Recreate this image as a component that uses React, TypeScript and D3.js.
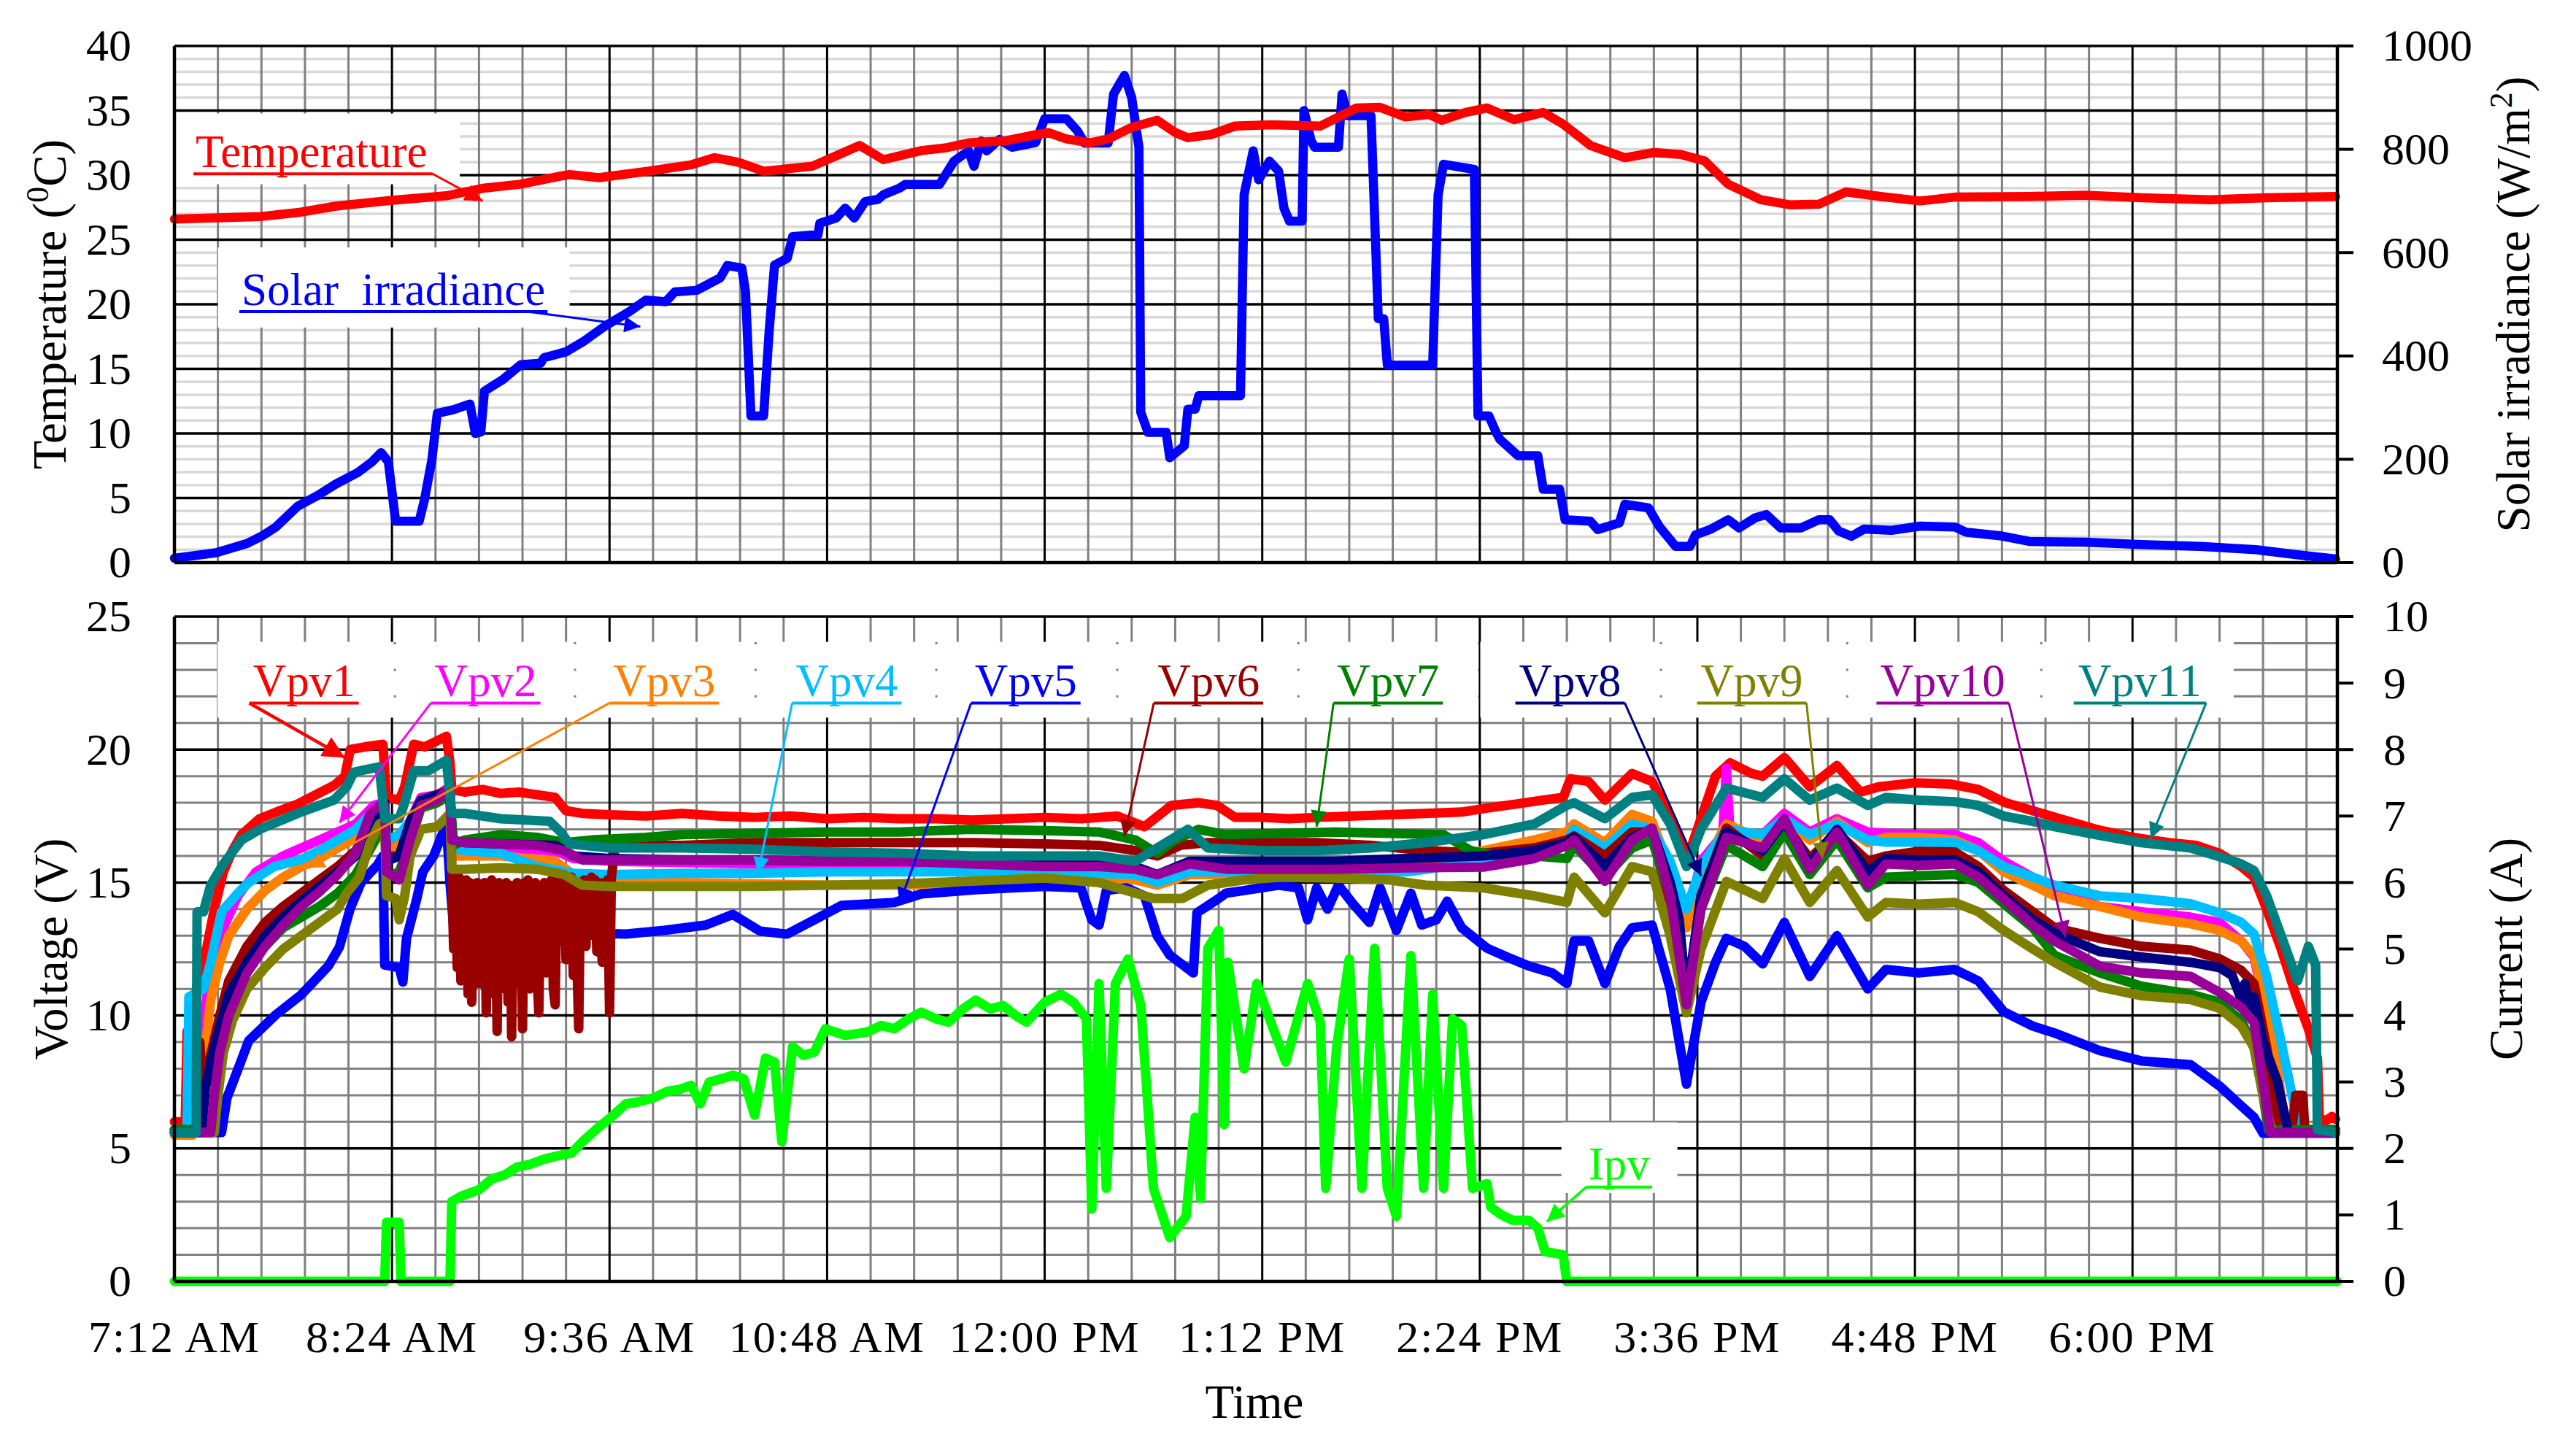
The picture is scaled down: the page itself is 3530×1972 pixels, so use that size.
import React from "react";
import * as d3 from "d3";

// ---- axes / ticks ----
const T0 = 7.2;
const T1 = 19.13;
const timeTicks = [7.2, 8.4, 9.6, 10.8, 12.0, 13.2, 14.4, 15.6, 16.8, 18.0];
const tempTicks = [0, 5, 10, 15, 20, 25, 30, 35, 40];
const irrTicks = [0, 200, 400, 600, 800, 1000];
const voltTicks = [0, 5, 10, 15, 20, 25];
const ampTicks = [0, 1, 2, 3, 4, 5, 6, 7, 8, 9, 10];

// ---- top panel data (hours, value) ----
const temperature: [number, number][] = [
  [7.2, 26.6], [7.68, 26.8], [7.88, 27.1], [8.09, 27.6], [8.4, 28.05], [8.7, 28.4], [8.91, 29.0], [9.11, 29.3],
  [9.32, 29.9], [9.38, 30.05], [9.54, 29.8], [9.81, 30.3], [10.05, 30.8], [10.18, 31.35], [10.31, 31.0], [10.45, 30.3],
  [10.72, 30.7], [10.85, 31.5], [10.98, 32.3], [11.11, 31.2], [11.32, 31.9], [11.45, 32.1], [11.58, 32.5], [11.78, 32.65],
  [11.92, 33.05], [12.02, 33.3], [12.12, 32.8], [12.25, 32.5], [12.35, 32.8], [12.48, 33.7], [12.62, 34.25], [12.72, 33.3],
  [12.79, 32.9], [12.92, 33.15], [13.05, 33.8], [13.25, 33.9], [13.52, 33.8], [13.62, 34.5], [13.72, 35.2], [13.85, 35.25],
  [13.99, 34.5], [14.12, 34.7], [14.19, 34.25], [14.32, 34.85], [14.44, 35.2], [14.59, 34.3], [14.75, 34.85], [14.86, 33.95],
  [15.01, 32.3], [15.2, 31.35], [15.36, 31.75], [15.51, 31.6], [15.64, 31.1], [15.77, 29.3], [15.95, 28.1], [16.11, 27.7],
  [16.27, 27.75], [16.42, 28.7], [16.61, 28.35], [16.83, 28.0], [17.02, 28.3], [17.43, 28.35], [17.74, 28.45], [18.05, 28.25],
  [18.43, 28.1], [18.74, 28.25], [19.12, 28.35],
];

const irradiance: [number, number][] = [
  [7.2, 8.5], [7.43, 19], [7.6, 37], [7.68, 51], [7.76, 69], [7.88, 109], [7.99, 130], [8.09, 152], [8.21, 174], [8.29, 195],
  [8.34, 213], [8.38, 195], [8.42, 80], [8.55, 80], [8.58, 123], [8.62, 199], [8.65, 289], [8.74, 296], [8.83, 307],
  [8.86, 250], [8.89, 253], [8.91, 332], [9.01, 354], [9.11, 383], [9.22, 386], [9.24, 397], [9.36, 408], [9.46, 429],
  [9.58, 459], [9.71, 486], [9.8, 508], [9.91, 505], [9.96, 524], [10.08, 527], [10.21, 551], [10.25, 575], [10.33, 570],
  [10.35, 524], [10.38, 284], [10.45, 284], [10.48, 446], [10.51, 576], [10.58, 589], [10.61, 631], [10.75, 635],
  [10.76, 657], [10.85, 667], [10.9, 686], [10.95, 667], [11.01, 699], [11.08, 703], [11.11, 712], [11.2, 725],
  [11.23, 732], [11.42, 732], [11.5, 777], [11.58, 797], [11.61, 767], [11.65, 816], [11.68, 797], [11.75, 819],
  [11.82, 804], [11.95, 813], [12.0, 859], [12.12, 859], [12.18, 836], [12.22, 812], [12.35, 812], [12.38, 907],
  [12.44, 943], [12.48, 900], [12.52, 804], [12.53, 291], [12.57, 252], [12.67, 252], [12.69, 203], [12.77, 226],
  [12.79, 297], [12.83, 297], [12.85, 323], [13.08, 323], [13.1, 712], [13.15, 797], [13.18, 741], [13.24, 777],
  [13.29, 758], [13.32, 686], [13.35, 661], [13.42, 661], [13.43, 875], [13.47, 816], [13.49, 804], [13.62, 804],
  [13.64, 907], [13.67, 865], [13.8, 865], [13.84, 472], [13.87, 472], [13.89, 382], [14.14, 382], [14.17, 712],
  [14.2, 771], [14.37, 761], [14.39, 284], [14.45, 284], [14.49, 252], [14.51, 239], [14.61, 207], [14.72, 207],
  [14.75, 142], [14.84, 142], [14.87, 83], [15.01, 80], [15.05, 64], [15.17, 77], [15.2, 113], [15.33, 106],
  [15.39, 70], [15.48, 31.5], [15.56, 31.5], [15.59, 54], [15.67, 64], [15.77, 83], [15.83, 67], [15.92, 87],
  [15.98, 93], [16.06, 67], [16.17, 67], [16.27, 83], [16.33, 83], [16.38, 61], [16.45, 51], [16.52, 65], [16.67, 62.5],
  [16.83, 70.6], [17.02, 69], [17.08, 59], [17.27, 52], [17.43, 41], [17.74, 39.5], [18.05, 35], [18.37, 31.5],
  [18.68, 25], [18.9, 15.5], [19.12, 7],
];

// ---- bottom panel data: module voltages (hours, V) ----
const vpv1: [number, number][] = [
  [7.2, 6.0], [7.26, 6.0], [7.27, 9.4], [7.29, 9.4], [7.31, 10.6], [7.34, 11.6], [7.38, 12.6], [7.42, 14.0], [7.47, 15.4],
  [7.52, 16.2], [7.57, 16.8], [7.67, 17.4], [7.78, 17.7], [7.88, 17.95], [7.98, 18.3], [8.08, 18.65], [8.14, 19.0],
  [8.17, 20.0], [8.25, 20.1], [8.35, 20.2], [8.37, 18.2], [8.44, 18.1], [8.47, 18.6], [8.52, 20.2], [8.58, 20.1],
  [8.64, 20.3], [8.7, 20.5], [8.72, 19.5], [8.73, 18.5], [8.8, 18.4], [8.9, 18.5], [9.0, 18.35], [9.1, 18.4], [9.2, 18.3],
  [9.3, 18.2], [9.36, 17.7], [9.45, 17.6], [9.6, 17.55], [9.8, 17.5], [10.0, 17.6], [10.2, 17.5], [10.4, 17.45],
  [10.6, 17.5], [10.8, 17.4], [11.0, 17.45], [11.2, 17.4], [11.4, 17.4], [11.6, 17.35], [11.8, 17.4], [12.0, 17.45],
  [12.2, 17.4], [12.4, 17.5], [12.55, 17.1], [12.7, 17.9], [12.85, 18.0], [12.95, 17.9], [13.05, 17.45], [13.2, 17.45],
  [13.35, 17.4], [13.5, 17.45], [13.7, 17.5], [13.9, 17.55], [14.1, 17.6], [14.3, 17.65], [14.44, 17.8], [14.6, 17.95],
  [14.75, 18.1], [14.86, 18.2], [14.9, 18.9], [15.0, 18.8], [15.09, 18.1], [15.24, 19.1], [15.35, 18.8], [15.45, 17.5],
  [15.55, 16.0], [15.62, 17.4], [15.7, 19.0], [15.78, 19.5], [15.9, 19.1], [15.96, 19.0], [16.08, 19.7], [16.22, 18.6],
  [16.37, 19.4], [16.5, 18.4], [16.6, 18.6], [16.8, 18.75], [17.0, 18.7], [17.15, 18.5], [17.3, 18.0], [17.45, 17.7],
  [17.6, 17.4], [17.8, 17.0], [18.0, 16.7], [18.2, 16.5], [18.35, 16.4], [18.48, 16.1], [18.6, 15.6], [18.67, 15.2],
  [18.74, 14.0], [18.82, 12.5], [18.9, 10.8], [18.97, 9.5], [19.02, 8.4], [19.03, 6.2], [19.06, 6.0], [19.1, 6.2], [19.12, 6.1],
];

const vpv2: [number, number][] = [
  [7.2, 5.7], [7.33, 5.7], [7.35, 8.5], [7.38, 10.8], [7.42, 12.0], [7.47, 13.3], [7.55, 14.5], [7.65, 15.4], [7.8, 16.0],
  [7.9, 16.3], [8.0, 16.6], [8.1, 16.9], [8.2, 17.2], [8.3, 17.9], [8.35, 18.0], [8.37, 16.3], [8.44, 16.5], [8.5, 17.3],
  [8.56, 18.2], [8.65, 18.3], [8.72, 18.6], [8.73, 16.5], [8.8, 16.4], [9.0, 16.3], [9.3, 16.2], [9.4, 15.9], [9.6, 15.8],
  [10.0, 15.75], [10.4, 15.7], [10.8, 15.65], [11.2, 15.6], [11.6, 15.6], [12.0, 15.6], [12.3, 15.6], [12.5, 15.5],
  [12.62, 15.2], [12.8, 15.6], [13.0, 15.6], [13.4, 15.6], [13.8, 15.6], [14.1, 15.6], [14.42, 15.9], [14.7, 16.3],
  [14.88, 16.9], [14.92, 17.2], [15.09, 16.4], [15.24, 17.4], [15.35, 17.2], [15.45, 15.5], [15.54, 13.5], [15.62, 15.8],
  [15.74, 16.8], [15.76, 19.3], [15.78, 16.9], [15.96, 16.8], [16.08, 17.6], [16.22, 16.9], [16.37, 17.4], [16.54, 16.9],
  [16.64, 16.85], [16.82, 16.8], [17.02, 16.8], [17.15, 16.5], [17.29, 15.8], [17.45, 15.2], [17.57, 14.8], [17.82, 14.1],
  [18.05, 13.9], [18.32, 13.7], [18.48, 13.5], [18.6, 12.8], [18.67, 12.2], [18.74, 10.0], [18.8, 8.0], [18.84, 5.7], [19.12, 5.7],
];

const vpv3: [number, number][] = [
  [7.2, 5.5], [7.3, 5.5], [7.35, 7.5], [7.4, 10.57], [7.45, 12.0], [7.5, 13.0], [7.6, 14.0], [7.7, 14.7], [7.8, 15.2],
  [7.9, 15.6], [8.0, 15.9], [8.1, 16.3], [8.2, 16.8], [8.3, 17.5], [8.35, 17.7], [8.37, 16.2], [8.44, 16.4], [8.5, 17.3],
  [8.56, 18.0], [8.65, 18.2], [8.72, 18.4], [8.73, 16.0], [8.8, 16.0], [9.0, 16.0], [9.3, 15.8], [9.4, 15.3], [9.6, 15.1],
  [10.0, 15.0], [10.4, 14.95], [10.8, 14.9], [11.2, 14.9], [11.6, 14.95], [11.9, 15.0], [12.0, 15.05], [12.3, 15.1],
  [12.5, 15.1], [12.62, 14.9], [12.8, 15.3], [13.0, 15.3], [13.3, 15.35], [13.6, 15.4], [14.0, 15.6], [14.42, 16.2],
  [14.7, 16.6], [14.88, 16.9], [14.92, 17.2], [15.09, 16.5], [15.24, 17.56], [15.35, 17.3], [15.45, 15.5], [15.54, 13.3],
  [15.62, 15.4], [15.76, 17.2], [15.96, 16.6], [16.08, 17.4], [16.22, 16.6], [16.37, 17.3], [16.54, 16.5], [16.64, 16.7],
  [16.82, 16.7], [17.02, 16.6], [17.15, 16.2], [17.29, 15.4], [17.45, 14.9], [17.57, 14.5], [17.82, 14.1], [18.05, 13.7],
  [18.32, 13.45], [18.48, 13.2], [18.6, 12.8], [18.67, 12.26], [18.74, 10.27], [18.8, 8.0], [18.84, 5.7], [19.12, 5.6],
];

const vpv4: [number, number][] = [
  [7.2, 5.7], [7.27, 5.7], [7.28, 10.7], [7.36, 11.0], [7.4, 12.0], [7.46, 13.9], [7.55, 14.6], [7.61, 15.0], [7.75, 15.6],
  [7.9, 15.87], [8.0, 16.2], [8.1, 16.6], [8.2, 17.0], [8.3, 17.7], [8.35, 17.9], [8.37, 16.6], [8.44, 16.8], [8.5, 17.3],
  [8.56, 18.0], [8.65, 18.2], [8.72, 18.4], [8.73, 16.3], [8.8, 16.2], [9.0, 16.1], [9.2, 15.6], [9.4, 15.35], [9.6, 15.3],
  [10.0, 15.35], [10.4, 15.35], [10.8, 15.4], [11.2, 15.4], [11.6, 15.4], [12.0, 15.4], [12.5, 15.3], [12.62, 15.0],
  [12.8, 15.4], [13.2, 15.4], [13.6, 15.4], [14.0, 15.4], [14.42, 15.8], [14.7, 16.2], [14.88, 16.6], [14.92, 17.0],
  [15.09, 16.3], [15.24, 17.2], [15.35, 17.0], [15.45, 15.8], [15.54, 14.0], [15.62, 15.6], [15.76, 17.0], [15.96, 16.8],
  [16.08, 17.4], [16.22, 16.8], [16.37, 17.2], [16.54, 16.6], [16.64, 16.52], [16.82, 16.52], [17.02, 16.5], [17.15, 16.2],
  [17.29, 15.6], [17.45, 15.2], [17.57, 14.9], [17.82, 14.5], [18.05, 14.4], [18.32, 14.2], [18.48, 13.86], [18.6, 13.5],
  [18.67, 13.06], [18.74, 11.47], [18.82, 9.0], [18.88, 7.0], [18.92, 5.7], [19.12, 5.7],
];

const vpv5: [number, number][] = [
  [7.2, 5.6], [7.46, 5.6], [7.49, 6.9], [7.55, 7.97], [7.61, 9.05], [7.76, 10.03], [7.9, 10.78], [8.05, 11.87], [8.11, 12.57],
  [8.17, 14.03], [8.23, 15.0], [8.32, 15.66], [8.35, 16.0], [8.36, 11.9], [8.44, 11.8], [8.46, 11.26], [8.48, 12.9],
  [8.535, 14.34], [8.57, 15.4], [8.63, 16.0], [8.7, 17.2], [8.72, 15.0], [8.74, 13.3], [8.9, 13.4], [9.1, 13.4], [9.3, 13.3],
  [9.5, 13.1], [9.69, 13.06], [9.9, 13.2], [10.13, 13.4], [10.28, 13.8], [10.43, 13.17], [10.58, 13.06], [10.73, 13.6],
  [10.88, 14.14], [11.17, 14.25], [11.32, 14.57], [11.62, 14.73], [11.82, 14.8], [12.0, 14.85], [12.2, 14.8], [12.26, 13.6],
  [12.3, 13.4], [12.34, 14.7], [12.45, 14.8], [12.55, 14.5], [12.62, 13.0], [12.69, 12.27], [12.77, 11.86], [12.82, 11.6],
  [12.84, 13.86], [12.96, 14.4], [13.0, 14.6], [13.1, 14.7], [13.29, 14.9], [13.4, 14.8], [13.45, 13.6], [13.5, 14.8],
  [13.56, 14.0], [13.62, 14.9], [13.7, 14.2], [13.79, 13.5], [13.85, 14.8], [13.94, 13.2], [14.02, 14.6], [14.08, 13.4],
  [14.16, 13.6], [14.22, 14.3], [14.3, 13.3], [14.44, 12.53], [14.55, 12.2], [14.67, 11.86], [14.8, 11.6], [14.88, 11.2],
  [14.92, 12.8], [15.0, 12.8], [15.09, 11.2], [15.17, 12.6], [15.24, 13.3], [15.35, 13.4], [15.45, 11.0], [15.54, 7.42],
  [15.62, 10.5], [15.7, 12.0], [15.76, 12.9], [15.86, 12.6], [15.96, 11.94], [16.08, 13.5], [16.22, 11.47], [16.37, 13.0],
  [16.54, 11.0], [16.64, 11.73], [16.82, 11.6], [17.02, 11.73], [17.15, 11.3], [17.29, 10.14], [17.45, 9.6], [17.57, 9.34],
  [17.82, 8.68], [18.05, 8.29], [18.32, 8.15], [18.48, 7.35], [18.6, 6.6], [18.67, 6.17], [18.72, 5.57], [19.12, 5.57],
];

const vpv6: [number, number][] = [
  [7.2, 5.7], [7.33, 5.7], [7.34, 9.0], [7.36, 7.0], [7.4, 8.5], [7.45, 10.0], [7.5, 11.3], [7.6, 12.6], [7.7, 13.5],
  [7.8, 14.1], [7.9, 14.6], [8.0, 15.1], [8.1, 15.6], [8.2, 16.2], [8.3, 17.3], [8.36, 17.6], [8.37, 16.0], [8.44, 16.0],
  [8.5, 17.0], [8.56, 18.0], [8.65, 18.3], [8.72, 18.5],
  [8.73, 15.5], [8.74, 12.5], [8.75, 15.3], [8.76, 11.8], [8.77, 15.2], [8.78, 11.3], [8.79, 15.0], [8.8, 12.2],
  [8.81, 15.1], [8.82, 10.8], [8.83, 15.0], [8.84, 10.5], [8.85, 14.9], [8.86, 12.0], [8.87, 15.0], [8.88, 11.2],
  [8.89, 14.8], [8.9, 12.5], [8.91, 15.0], [8.92, 10.1], [8.93, 14.9], [8.94, 11.5], [8.95, 15.1], [8.96, 10.8],
  [8.97, 14.8], [8.98, 9.4], [8.99, 15.0], [9.0, 11.0], [9.01, 14.7], [9.02, 11.8], [9.03, 15.0], [9.04, 10.5],
  [9.05, 14.9], [9.06, 9.2], [9.07, 14.8], [9.08, 12.0], [9.09, 15.0], [9.1, 11.2], [9.11, 14.9], [9.12, 9.5],
  [9.13, 15.0], [9.14, 12.3], [9.15, 15.1], [9.16, 11.0], [9.17, 14.8], [9.18, 12.6], [9.19, 15.0], [9.2, 11.5],
  [9.21, 10.1], [9.22, 14.9], [9.23, 12.2], [9.24, 15.0], [9.25, 11.6], [9.26, 14.8], [9.27, 12.5], [9.28, 15.1],
  [9.29, 11.0], [9.3, 10.4], [9.31, 15.0], [9.32, 13.0], [9.33, 15.2], [9.34, 12.8], [9.35, 15.1], [9.36, 12.1],
  [9.37, 15.0], [9.38, 13.2], [9.39, 15.2], [9.4, 11.5], [9.41, 14.9], [9.42, 12.0], [9.43, 9.5], [9.44, 15.0],
  [9.45, 13.4], [9.46, 15.1], [9.47, 12.6], [9.48, 15.0], [9.49, 13.0], [9.5, 15.2], [9.51, 13.5], [9.52, 15.1],
  [9.53, 12.4], [9.54, 15.0], [9.55, 13.2], [9.56, 12.0], [9.57, 15.0], [9.58, 13.3], [9.59, 15.1], [9.6, 10.1],
  [9.61, 15.2], [9.63, 16.3],
  [9.8, 16.4], [10.0, 16.4], [10.4, 16.5], [10.8, 16.5], [11.2, 16.5], [11.6, 16.5], [12.0, 16.45], [12.3, 16.4],
  [12.5, 16.2], [12.62, 16.0], [12.75, 16.4], [12.9, 16.5], [13.2, 16.5], [13.5, 16.5], [13.8, 16.4], [14.1, 16.2],
  [14.42, 16.1], [14.7, 16.3], [14.88, 16.6], [14.92, 16.75], [15.09, 16.0], [15.24, 16.9], [15.35, 16.9], [15.45, 14.0],
  [15.54, 10.4], [15.62, 14.5], [15.76, 17.05], [15.96, 16.0], [16.08, 17.2], [16.22, 15.9], [16.37, 16.9], [16.54, 15.8],
  [16.64, 16.0], [16.82, 16.17], [17.02, 16.15], [17.15, 15.6], [17.29, 14.7], [17.45, 13.9], [17.57, 13.3], [17.82, 12.9],
  [18.05, 12.6], [18.32, 12.46], [18.48, 12.13], [18.6, 11.7], [18.67, 11.2], [18.74, 8.8], [18.78, 7.0], [18.8, 5.7],
  [18.88, 5.7], [18.9, 7.0], [18.94, 7.0], [18.95, 5.7], [19.12, 5.7],
];

const vpv7: [number, number][] = [
  [7.2, 5.7], [7.41, 5.7], [7.43, 7.5], [7.47, 9.5], [7.52, 10.8], [7.6, 11.8], [7.7, 12.6], [7.8, 13.3], [7.9, 13.7],
  [8.0, 14.1], [8.1, 14.6], [8.2, 15.3], [8.3, 16.5], [8.36, 17.2], [8.37, 15.2], [8.44, 15.4], [8.5, 16.5], [8.56, 17.8],
  [8.65, 18.0], [8.72, 18.3], [8.74, 16.4], [8.8, 16.6], [9.0, 16.8], [9.2, 16.7], [9.35, 16.5], [9.5, 16.6], [9.8, 16.7],
  [10.0, 16.8], [10.4, 16.85], [10.8, 16.9], [11.2, 16.9], [11.6, 17.0], [12.0, 16.95], [12.3, 16.9], [12.5, 16.6],
  [12.62, 16.1], [12.72, 16.6], [12.85, 17.0], [13.0, 16.8], [13.3, 16.85], [13.6, 16.9], [13.9, 16.85], [14.2, 16.8],
  [14.35, 16.2], [14.5, 16.0], [14.7, 16.0], [14.88, 15.9], [14.92, 16.4], [15.09, 15.2], [15.24, 16.3], [15.35, 16.6],
  [15.45, 14.5], [15.54, 10.6], [15.62, 14.0], [15.76, 16.4], [15.96, 15.6], [16.08, 16.9], [16.22, 15.3], [16.37, 16.6],
  [16.54, 14.8], [16.64, 15.2], [16.82, 15.25], [17.02, 15.3], [17.15, 15.0], [17.29, 14.2], [17.45, 13.3], [17.57, 12.26],
  [17.82, 11.6], [18.05, 11.1], [18.32, 10.8], [18.48, 10.5], [18.6, 9.8], [18.67, 8.8], [18.72, 7.0], [18.75, 5.7], [19.12, 5.7],
];

const vpv8: [number, number][] = [
  [7.2, 5.6], [7.35, 5.6], [7.37, 7.2], [7.4, 8.3], [7.45, 9.6], [7.5, 10.8], [7.6, 12.0], [7.7, 13.0], [7.8, 13.7],
  [7.9, 14.3], [8.0, 14.85], [8.1, 15.4], [8.2, 16.0], [8.3, 17.3], [8.36, 18.0], [8.37, 15.8], [8.44, 16.0], [8.5, 17.3],
  [8.56, 18.1], [8.65, 18.3], [8.72, 18.4], [8.73, 16.6], [8.8, 16.5], [9.0, 16.45], [9.3, 16.4], [9.4, 16.0], [9.6, 15.9],
  [10.0, 15.85], [10.4, 15.85], [10.8, 15.8], [11.2, 15.8], [11.6, 15.75], [12.0, 15.7], [12.3, 15.7], [12.5, 15.6],
  [12.62, 15.3], [12.8, 15.8], [13.2, 15.8], [13.6, 15.8], [14.0, 15.9], [14.42, 16.0], [14.7, 16.2], [14.88, 16.5],
  [14.92, 16.7], [15.09, 15.6], [15.24, 16.7], [15.35, 17.0], [15.45, 15.0], [15.5, 13.6], [15.54, 10.6], [15.62, 14.5],
  [15.76, 16.9], [15.96, 16.2], [16.08, 17.3], [16.22, 15.7], [16.37, 17.0], [16.54, 15.4], [16.64, 15.9], [16.82, 15.84],
  [17.02, 15.85], [17.15, 15.4], [17.29, 14.5], [17.45, 13.6], [17.57, 13.1], [17.82, 12.4], [18.05, 12.2], [18.32, 12.0],
  [18.48, 11.8], [18.55, 11.5], [18.6, 10.6], [18.62, 11.2], [18.65, 10.0], [18.67, 10.7], [18.72, 9.0], [18.8, 7.5],
  [18.86, 5.6], [19.12, 5.6],
];

const vpv9: [number, number][] = [
  [7.2, 5.6], [7.42, 5.6], [7.44, 7.0], [7.47, 8.6], [7.52, 9.8], [7.6, 11.0], [7.7, 11.8], [7.8, 12.5], [7.9, 13.0],
  [8.0, 13.5], [8.1, 14.0], [8.15, 14.6], [8.22, 15.2], [8.28, 16.5], [8.33, 17.2], [8.36, 17.3], [8.37, 14.5], [8.42, 14.4],
  [8.44, 13.6], [8.47, 14.5], [8.5, 16.0], [8.56, 17.0], [8.65, 17.1], [8.72, 17.6], [8.73, 15.5], [8.8, 15.5], [9.0, 15.55],
  [9.2, 15.5], [9.35, 15.3], [9.45, 14.9], [9.6, 14.85], [10.0, 14.85], [10.4, 14.85], [10.8, 14.9], [11.2, 14.95],
  [11.6, 15.05], [12.0, 15.17], [12.3, 15.0], [12.45, 14.7], [12.6, 14.4], [12.76, 14.4], [12.9, 14.9], [13.1, 15.1],
  [13.3, 15.2], [13.6, 15.17], [13.9, 15.1], [14.1, 14.9], [14.42, 14.8], [14.7, 14.5], [14.88, 14.25], [14.92, 15.2],
  [15.09, 13.86], [15.24, 15.6], [15.35, 15.4], [15.45, 13.0], [15.54, 10.1], [15.62, 12.5], [15.76, 15.04], [15.96, 14.4],
  [16.08, 15.9], [16.22, 14.25], [16.37, 15.45], [16.54, 13.7], [16.64, 14.25], [16.82, 14.19], [17.02, 14.25], [17.15, 13.9],
  [17.29, 13.2], [17.45, 12.5], [17.57, 12.0], [17.82, 11.07], [18.05, 10.74], [18.32, 10.6], [18.48, 10.27], [18.6, 9.6],
  [18.67, 8.8], [18.72, 7.0], [18.77, 5.6], [19.12, 5.6],
];

const vpv10: [number, number][] = [
  [7.2, 5.6], [7.4, 5.6], [7.42, 7.0], [7.45, 8.6], [7.5, 10.0], [7.6, 11.6], [7.7, 12.6], [7.8, 13.4], [7.9, 14.1],
  [8.0, 14.65], [8.1, 15.3], [8.2, 16.1], [8.28, 17.6], [8.33, 17.9], [8.36, 17.9], [8.37, 15.4], [8.44, 15.1], [8.5, 16.6],
  [8.56, 17.9], [8.65, 18.1], [8.72, 18.6], [8.73, 16.6], [8.8, 16.5], [9.0, 16.45], [9.2, 16.4], [9.35, 16.2], [9.45, 15.85],
  [9.6, 15.85], [10.0, 15.85], [10.4, 15.85], [10.8, 15.8], [11.2, 15.8], [11.6, 15.7], [12.0, 15.6], [12.3, 15.6],
  [12.5, 15.5], [12.62, 15.3], [12.8, 15.7], [13.0, 15.5], [13.3, 15.5], [13.6, 15.5], [14.0, 15.55], [14.42, 15.58],
  [14.7, 15.9], [14.88, 16.4], [14.92, 16.6], [15.09, 15.05], [15.24, 16.6], [15.35, 17.05], [15.45, 14.5], [15.54, 10.4],
  [15.62, 14.0], [15.76, 16.7], [15.96, 16.3], [16.08, 17.4], [16.22, 15.5], [16.37, 16.9], [16.54, 14.9], [16.64, 15.7],
  [16.82, 15.64], [17.02, 15.7], [17.15, 15.2], [17.29, 14.38], [17.45, 13.4], [17.57, 12.8], [17.82, 11.86], [18.05, 11.6],
  [18.32, 11.47], [18.48, 10.87], [18.6, 10.3], [18.67, 9.74], [18.72, 7.5], [18.76, 5.6], [19.12, 5.6],
];

const vpv11: [number, number][] = [
  [7.2, 5.6], [7.32, 5.6], [7.325, 13.9], [7.36, 13.9], [7.4, 14.9], [7.47, 15.7], [7.57, 16.6], [7.67, 17.0], [7.88, 17.6],
  [8.08, 18.1], [8.15, 18.6], [8.19, 19.15], [8.33, 19.35], [8.36, 17.4], [8.44, 17.4], [8.47, 18.0], [8.52, 19.2],
  [8.6, 19.2], [8.7, 19.6], [8.73, 17.6], [8.8, 17.6], [9.0, 17.4], [9.27, 17.3], [9.33, 16.9], [9.38, 16.45], [9.6, 16.3],
  [10.0, 16.3], [10.4, 16.25], [10.8, 16.15], [11.2, 16.1], [11.6, 16.0], [12.0, 16.0], [12.3, 16.0], [12.5, 15.8],
  [12.62, 16.3], [12.79, 17.0], [12.9, 16.3], [13.2, 16.2], [13.5, 16.2], [13.8, 16.3], [14.1, 16.5], [14.42, 16.8],
  [14.7, 17.2], [14.88, 17.9], [14.92, 18.0], [15.09, 17.4], [15.24, 18.2], [15.35, 18.3], [15.45, 17.2], [15.54, 15.6],
  [15.62, 17.0], [15.76, 18.55], [15.96, 18.2], [16.08, 18.9], [16.22, 18.1], [16.37, 18.55], [16.54, 17.9], [16.64, 18.2],
  [16.82, 18.1], [17.02, 18.04], [17.15, 17.9], [17.29, 17.5], [17.45, 17.3], [17.57, 17.1], [17.82, 16.77], [18.05, 16.5],
  [18.32, 16.3], [18.48, 15.97], [18.6, 15.7], [18.67, 15.45], [18.74, 14.5], [18.82, 13.0], [18.91, 11.3], [18.97, 12.6],
  [19.01, 11.9], [19.02, 5.7], [19.12, 5.6],
];

// ---- bottom panel data: array current (hours, A) ----
const ipv: [number, number][] = [
  [7.2, 0], [8.36, 0], [8.37, 0.89], [8.44, 0.89], [8.45, 0], [8.72, 0], [8.73, 1.2], [8.78, 1.28], [8.83, 1.33],
  [8.88, 1.38], [8.95, 1.54], [9.02, 1.6], [9.09, 1.72], [9.16, 1.76], [9.24, 1.84], [9.3, 1.88], [9.39, 1.93],
  [9.45, 2.1], [9.54, 2.32], [9.6, 2.45], [9.69, 2.67], [9.76, 2.7], [9.84, 2.76], [9.92, 2.86], [9.99, 2.89],
  [10.05, 2.95], [10.1, 2.67], [10.15, 3.0], [10.22, 3.05], [10.28, 3.1], [10.34, 3.05], [10.4, 2.5], [10.46, 3.36],
  [10.51, 3.3], [10.55, 2.1], [10.61, 3.53], [10.67, 3.4], [10.73, 3.45], [10.79, 3.8], [10.9, 3.7], [11.02, 3.75],
  [11.1, 3.85], [11.17, 3.8], [11.25, 3.95], [11.32, 4.05], [11.4, 3.95], [11.47, 3.9], [11.55, 4.1], [11.62, 4.23],
  [11.7, 4.1], [11.77, 4.15], [11.84, 4.0], [11.9, 3.9], [12.0, 4.2], [12.09, 4.32], [12.16, 4.2], [12.23, 3.95],
  [12.26, 1.09], [12.3, 4.48], [12.34, 1.4], [12.39, 4.48], [12.46, 4.85], [12.53, 4.16], [12.56, 3.0], [12.6, 1.4],
  [12.69, 0.66], [12.78, 0.98], [12.83, 2.47], [12.86, 1.25], [12.9, 5.01], [12.96, 5.28], [12.99, 2.36], [13.01, 4.8],
  [13.1, 3.2], [13.17, 4.48], [13.24, 3.95], [13.33, 3.3], [13.45, 4.48], [13.52, 3.9], [13.55, 1.4], [13.61, 3.52],
  [13.68, 4.85], [13.75, 1.4], [13.82, 5.01], [13.89, 1.4], [13.94, 0.98], [14.02, 4.9], [14.09, 1.4], [14.14, 4.32],
  [14.2, 1.4], [14.25, 3.95], [14.3, 3.85], [14.36, 1.4], [14.44, 1.47], [14.46, 1.12], [14.52, 1.0], [14.58, 0.92],
  [14.67, 0.92], [14.72, 0.8], [14.76, 0.45], [14.86, 0.4], [14.88, 0], [19.13, 0],
];

// ---- series styling and label annotations (label centre in hours, arrow tip in data units) ----
const voltSeries = [
  { name: "Vpv1", color: "#ff0000", data: vpv1, labelAt: 7.915, tip: [8.14, 19.7], from: "left" },
  { name: "Vpv2", color: "#ff00ff", data: vpv2, labelAt: 8.917, tip: [8.11, 17.25], from: "left" },
  { name: "Vpv3", color: "#ff8000", data: vpv3, labelAt: 9.902, tip: [7.94, 15.55], from: "left" },
  { name: "Vpv4", color: "#00bfff", data: vpv4, labelAt: 10.909, tip: [10.42, 15.35], from: "left" },
  { name: "Vpv5", color: "#0000ff", data: vpv5, labelAt: 11.896, tip: [11.2, 14.2], from: "left" },
  { name: "Vpv6", color: "#990000", data: vpv6, labelAt: 12.904, tip: [12.44, 16.75], from: "left" },
  { name: "Vpv7", color: "#008000", data: vpv7, labelAt: 13.895, tip: [13.5, 17.1], from: "left" },
  { name: "Vpv8", color: "#000080", data: vpv8, labelAt: 14.898, tip: [15.62, 15.25], from: "right" },
  { name: "Vpv9", color: "#808000", data: vpv9, labelAt: 15.9, tip: [16.29, 15.9], from: "right" },
  { name: "Vpv10", color: "#990099", data: vpv10, labelAt: 16.953, tip: [17.63, 12.95], from: "right" },
  { name: "Vpv11", color: "#008080", data: vpv11, labelAt: 18.041, tip: [18.1, 16.65], from: "right" },
];

const glyphW: Record<string, number> = {
  V: 0.722, p: 0.5, v: 0.5, I: 0.333, T: 0.611, e: 0.444, m: 0.778, r: 0.333, a: 0.444, t: 0.278, u: 0.5,
  S: 0.556, o: 0.5, l: 0.278, i: 0.278, d: 0.5, n: 0.5, c: 0.444, " ": 0.25, "\u00a0": 0.25,
};
const textW = (s: string, fs: number) =>
  s.split("").reduce((acc, ch) => acc + (glyphW[ch] ?? 0.5), 0) * fs;

const fmtTime = (h: number) => {
  const hh = Math.floor(h + 1e-6);
  const mm = Math.round((h - hh) * 60);
  const ap = hh >= 12 ? "PM" : "AM";
  const h12 = hh > 12 ? hh - 12 : hh;
  return `${h12}:${String(mm).padStart(2, "0")} ${ap}`;
};

const FONT = "'Liberation Serif', 'Times New Roman', serif";

export default function App() {
  const W = 3530, H = 1972;
  const x = d3.scaleLinear().domain([T0, T1]).range([239, 3203]);
  const yT = d3.scaleLinear().domain([0, 40]).range([771, 63]);
  const yIrr = d3.scaleLinear().domain([0, 1000]).range([771, 63]);
  const yV = d3.scaleLinear().domain([0, 25]).range([1756, 845]);
  const yI = d3.scaleLinear().domain([0, 10]).range([1756, 845]);

  const xL = x(T0), xR = x(T1);
  const minorX = d3.range(0, 60).map((i) => T0 + i * 0.24).filter((t) => t < T1 - 0.02);
  const majorX = minorX.filter((_, i) => i % 5 === 0);

  const lineT = d3.line<[number, number]>().x((d) => x(d[0])).y((d) => yT(d[1]));
  const lineIrr = d3.line<[number, number]>().x((d) => x(d[0])).y((d) => yIrr(d[1]));
  const lineV = d3.line<[number, number]>().x((d) => x(d[0])).y((d) => yV(d[1]));
  const lineI = d3.line<[number, number]>().x((d) => x(d[0])).y((d) => yI(d[1]));

  const LW = 13;
  const LWtop = 12.5;
  const labFS = 63;

  // bottom label boxes
  const centers = voltSeries.map((s) => x(s.labelAt));
  const edges = [centers[0] - 120];
  for (let i = 0; i < centers.length - 1; i++) edges.push((centers[i] + centers[i + 1]) / 2);
  edges.push(centers[centers.length - 1] + 130);

  const marker = (id: string, color: string, len: number, wid: number) => (
    <marker key={id} id={id} viewBox="0 0 10 10" refX={10} refY={5} markerWidth={len} markerHeight={wid}
      markerUnits="userSpaceOnUse" orient="auto">
      <path d="M0,0 L10,5 L0,10 z" fill={color} />
    </marker>
  );

  // top labels
  const tempTxt = "Temperature";
  const tempX0 = x(7.317), tempBase = yT(30.6), tempUl = yT(30.1);
  const tempW = textW(tempTxt, labFS);
  const solTxt = "Solar\u00a0 irradiance";
  const solX0 = x(7.57), solBase = yIrr(498.6), solUl = yIrr(486);
  const solW = textW(solTxt, labFS);
  const ipvX0 = x(15.0), ipvBase = yI(1.54), ipvUl = yI(1.42);

  return (
    <div>
      <style>{`body{margin:0;overflow:hidden;background:#fff}`}</style>
      <svg width={W} height={H} style={{ display: "block", fontFamily: FONT }}>
        <defs>
          {voltSeries.map((s, i) => marker(`arr${i}`, s.color, i === 0 ? 38 : 30, i === 0 ? 30 : 22))}
          {marker("arrT", "#ff0000", 30, 24)}
          {marker("arrS", "#0000ff", 28, 22)}
          {marker("arrI", "#00ff00", 32, 24)}
        </defs>
        <rect x={0} y={0} width={W} height={H} fill="#fff" />

        {/* ===== top panel grid ===== */}
        <g>
          {d3.range(0, 41).filter((v) => v % 5 !== 0).map((v) => (
            <line key={`tm${v}`} x1={xL} x2={xR} y1={yT(v)} y2={yT(v)} stroke="#d9d9d9" strokeWidth={3.5} />
          ))}
          {minorX.filter((_, i) => i % 5 !== 0).map((t) => (
            <line key={`tv${t}`} x1={x(t)} x2={x(t)} y1={yT(0)} y2={yT(40)} stroke="#808080" strokeWidth={3} />
          ))}
          {majorX.map((t) => (
            <line key={`tV${t}`} x1={x(t)} x2={x(t)} y1={yT(0)} y2={yT(40)} stroke="#000" strokeWidth={3} />
          ))}
          {tempTicks.map((v) => (
            <line key={`tH${v}`} x1={xL} x2={xR} y1={yT(v)} y2={yT(v)} stroke="#000" strokeWidth={3.5} />
          ))}
        </g>

        {/* ===== bottom panel grid ===== */}
        <g>
          {d3.range(0, 26).filter((v) => v % 5 !== 0).map((v) => (
            <line key={`bm${v}`} x1={xL} x2={xR} y1={yV(v)} y2={yV(v)} stroke="#808080" strokeWidth={3} />
          ))}
          {minorX.filter((_, i) => i % 5 !== 0).map((t) => (
            <line key={`bv${t}`} x1={x(t)} x2={x(t)} y1={yV(0)} y2={yV(25)} stroke="#808080" strokeWidth={3} />
          ))}
          {majorX.map((t) => (
            <line key={`bV${t}`} x1={x(t)} x2={x(t)} y1={yV(0)} y2={yV(25)} stroke="#000" strokeWidth={3} />
          ))}
          {voltTicks.map((v) => (
            <line key={`bH${v}`} x1={xL} x2={xR} y1={yV(v)} y2={yV(v)} stroke="#000" strokeWidth={3.5} />
          ))}
        </g>

        {/* ===== white label boxes ===== */}
        <rect x={xL + 1} y={yT(34.77)} width={x(8.77) - xL} height={yT(29.29) - yT(34.77)} fill="#fff" />
        <rect x={x(7.44)} y={yIrr(610)} width={x(9.38) - x(7.44)} height={yIrr(455) - yIrr(610)} fill="#fff" />
        {voltSeries.map((s, i) => (
          <rect key={`box${i}`} x={edges[i] + 1.5} y={yV(24.05)} width={edges[i + 1] - edges[i] - 3}
            height={yV(21.2) - yV(24.05)} fill="#fff" />
        ))}
        <rect x={x(14.85)} y={yI(2.39)} width={x(15.49) - x(14.85)} height={yI(1.33) - yI(2.39)} fill="#fff" />

        {/* ===== data: top panel ===== */}
        <path d={lineIrr(irradiance) ?? ""} fill="none" stroke="#0000ff" strokeWidth={LWtop} strokeLinejoin="round" strokeLinecap="round" />
        <path d={lineT(temperature) ?? ""} fill="none" stroke="#ff0000" strokeWidth={LWtop} strokeLinejoin="round" strokeLinecap="round" />

        {/* ===== data: bottom panel ===== */}
        {voltSeries.map((s) => (
          <path key={s.name} d={lineV(s.data as [number, number][]) ?? ""} fill="none" stroke={s.color}
            strokeWidth={LW} strokeLinejoin="round" strokeLinecap="round" />
        ))}
        <path d={lineI(ipv) ?? ""} fill="none" stroke="#00ff00" strokeWidth={LW} strokeLinejoin="round" strokeLinecap="round" />

        {/* ===== panel frames and right-axis ticks ===== */}
        <line x1={xL} x2={xL} y1={yT(0)} y2={yT(40)} stroke="#000" strokeWidth={4.5} />
        <line x1={xR} x2={xR} y1={yT(0)} y2={yT(40)} stroke="#000" strokeWidth={4.5} />
        <line x1={xL} x2={xR} y1={yT(0)} y2={yT(0)} stroke="#000" strokeWidth={4.5} />
        <line x1={xL} x2={xL} y1={yV(0)} y2={yV(25)} stroke="#000" strokeWidth={4.5} />
        <line x1={xR} x2={xR} y1={yV(0)} y2={yV(25)} stroke="#000" strokeWidth={4.5} />
        <line x1={xL} x2={xR} y1={yV(0)} y2={yV(0)} stroke="#000" strokeWidth={4.5} />
        {irrTicks.map((v) => (
          <line key={`ri${v}`} x1={xR} x2={xR + 22} y1={yIrr(v)} y2={yIrr(v)} stroke="#000" strokeWidth={4} />
        ))}
        {ampTicks.map((v) => (
          <line key={`ra${v}`} x1={xR} x2={xR + 22} y1={yI(v)} y2={yI(v)} stroke="#000" strokeWidth={4} />
        ))}

        {/* ===== tick labels ===== */}
        <g fontSize={62} fill="#000">
          {tempTicks.map((v) => (
            <text key={`lt${v}`} x={180} y={yT(v)} dy="0.33em" textAnchor="end">{v}</text>
          ))}
          {irrTicks.map((v) => (
            <text key={`li${v}`} x={3264} y={yIrr(v)} dy="0.33em" textAnchor="start">{v}</text>
          ))}
          {voltTicks.map((v) => (
            <text key={`lv${v}`} x={180} y={yV(v)} dy="0.33em" textAnchor="end">{v}</text>
          ))}
          {ampTicks.map((v) => (
            <text key={`la${v}`} x={3266} y={yI(v)} dy="0.33em" textAnchor="start">{v}</text>
          ))}
          {timeTicks.map((t) => (
            <text key={`lx${t}`} x={x(t)} y={1853} textAnchor="middle" letterSpacing={2}>{fmtTime(t)}</text>
          ))}
        </g>

        {/* ===== axis titles ===== */}
        <g fontSize={65} fill="#000">
          <text transform={`translate(90,${(yT(0) + yT(40)) / 2}) rotate(-90)`} textAnchor="middle">
            Temperature (<tspan fontSize={44} dy={-24}>0</tspan><tspan dy={24}>C)</tspan>
          </text>
          <text transform={`translate(92,${(yV(0) + yV(25)) / 2}) rotate(-90)`} textAnchor="middle">Voltage (V)</text>
          <text transform={`translate(3466,${(yT(0) + yT(40)) / 2}) rotate(-90)`} textAnchor="middle">
            Solar irradiance (W/m<tspan fontSize={44} dy={-24}>2</tspan><tspan dy={24}>)</tspan>
          </text>
          <text transform={`translate(3456,${(yV(0) + yV(25)) / 2}) rotate(-90)`} textAnchor="middle">Current (A)</text>
          <text x={(xL + xR) / 2 - 2} y={1943} textAnchor="middle">Time</text>
        </g>

        {/* ===== annotations: top panel ===== */}
        <g fontSize={labFS}>
          <text x={tempX0} y={tempBase} fill="#ff0000">{tempTxt}</text>
          <line x1={tempX0 - 3} x2={tempX0 + tempW + 3} y1={tempUl} y2={tempUl} stroke="#ff0000" strokeWidth={4} />
          <line x1={tempX0 + tempW + 3} y1={tempUl} x2={x(8.9)} y2={yT(28.0)} stroke="#ff0000" strokeWidth={3}
            markerEnd="url(#arrT)" />

          <text x={solX0} y={solBase} fill="#0000ff" style={{ whiteSpace: "pre" }}>{solTxt}</text>
          <line x1={solX0 - 3} x2={solX0 + solW + 3} y1={solUl} y2={solUl} stroke="#0000ff" strokeWidth={4} />
          <line x1={solX0 + solW - 25} y1={solUl} x2={x(9.77)} y2={yIrr(457)} stroke="#0000ff" strokeWidth={3}
            markerEnd="url(#arrS)" />
        </g>

        {/* ===== annotations: bottom panel ===== */}
        <g fontSize={labFS}>
          {voltSeries.map((s, i) => {
            const cx = x(s.labelAt);
            const w = textW(s.name, labFS);
            const ul = yV(21.75);
            const x0 = cx - w / 2 - 5;
            const x1 = cx + w / 2 + 5;
            const sx = s.from === "left" ? x0 : x1;
            return (
              <g key={`lab${i}`}>
                <text x={cx} y={yV(22.0)} textAnchor="middle" fill={s.color}>{s.name}</text>
                <line x1={x0} x2={x1} y1={ul} y2={ul} stroke={s.color} strokeWidth={4} />
                <line x1={sx} y1={ul} x2={x(s.tip[0])} y2={yV(s.tip[1])} stroke={s.color}
                  strokeWidth={i === 0 ? 4.5 : 3} markerEnd={`url(#arr${i})`} />
              </g>
            );
          })}
          <text x={ipvX0} y={ipvBase} fill="#00ff00">Ipv</text>
          <line x1={ipvX0 - 3} x2={ipvX0 + textW("Ipv", labFS) + 3} y1={ipvUl} y2={ipvUl} stroke="#00ff00" strokeWidth={4} />
          <line x1={ipvX0 - 3} y1={ipvUl} x2={x(14.77)} y2={yI(0.9)} stroke="#00ff00" strokeWidth={3.5}
            markerEnd="url(#arrI)" />
        </g>
      </svg>
    </div>
  );
}
